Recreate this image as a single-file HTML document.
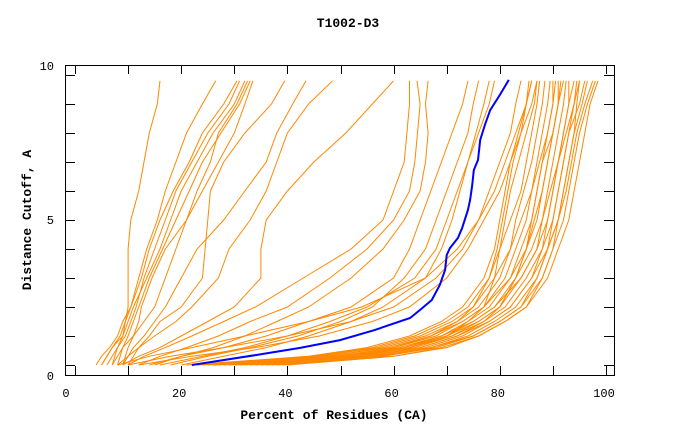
<!DOCTYPE html>
<html><head><meta charset="utf-8"><style>
body{margin:0;background:#fff;}
svg text{font-family:"Liberation Mono",monospace;fill:#000;}
</style></head><body>
<svg id="chart" width="680" height="440" xmlns="http://www.w3.org/2000/svg">
<rect x="0" y="0" width="680" height="440" fill="#fff"/>
<text x="348" y="27" text-anchor="middle" font-size="13" font-weight="bold">T1002-D3</text>
<text x="334" y="419" text-anchor="middle" font-size="13" font-weight="bold">Percent of Residues (CA)</text>
<text transform="translate(31,220) rotate(-90)" text-anchor="middle" font-size="13" font-weight="bold">Distance Cutoff, A</text>
<g id="series"></g>
<g id="axes"></g>
<rect x="65.5" y="65.5" width="549" height="310" fill="none" stroke="#000" stroke-width="1"/>
</svg>
<script>
const yLevels=[0,0.3,0.6,1,1.5,2,3,4,5,6,7,8,9,9.8];
const orangeSeries=[
[6,7,8,9,9.5,10,10,10,10.5,12,13,14,15.5,16],
[5,6,7,8.5,9.5,10.5,12,13.5,15.5,17,19,21,24,26.5],
[4,5,6.5,8,9,10.5,12.5,14,16,18.5,21.5,24,28,30.5],
[7,7.5,8,9.5,10.5,11.5,13,15,17,19,22,25,29,31],
[5,6,7,9,10,11,13.5,16,18,20,23,26,30,32],
[8,8.5,9,10,11,12,14,16.5,19,21.5,24,27.5,31,33],
[9,9.5,10,11,12,12.5,14.5,17,21,23,25.5,27,30.5,32.5],
[7,8,9,11,13,15,17,19,21,24,27,30,32,33.5],
[10,11,12,14,16,20,24,24.5,25,25.5,28,32,37,39.5],
[9,10,11,13,15,17,20,23,28,32,36,38,41,43.5],
[8,10,12,15,19,22,27,29,33,36,38,40,44,48.5],
[9,12,16,20,25,30,35,35,36,40,45,51,56,60],
[10,13,17,22,28,34,43,52,58,60,62,62.5,63,63],
[12,16,21,27,33,40,48,55,60,63,64,64.5,65,64.4],
[15,20,26,32,38,44,52,58,62,65,66,66.5,66,66.5],
[14,20,28,36,44,52,60,63,65,67,69,71,73,74],
[18,25,33,42,50,56,62,66,68,70,72,74,75,76],
[16,24,32,40,48,55,64,68,70,72,74,76,78,79],
[20,28,36,44,52,58,66,69,71,72.5,74,75.5,77,78],
[8,14,22,32,44,54,66,72,76,78,80,82,83,84],
[10,18,28,40,52,60,68,73,76,79,81,83,85,86],
[12,22,34,46,56,63,70,74,77,80,82,84,86,87],
[22,45,56,64,70,74,78,80,82,84,85,86,87,87.5],
[25,48,58,66,72,76,80,82,83,84.5,86,87,88,88.5],
[28,50,60,68,73,77,81,83,85,86,87,88,89,89.5],
[30,52,62,69,74,78,82,84,86,87,88,89,90,90],
[24,47,59,67,73,77,82,85,87,88,89,90,91,91],
[32,54,63,70,75,79,83,86,88,89,90,91,92,92.5],
[26,50,61,69,75,79,84,87,88,89.5,91,92,93,93],
[34,55,64,71,76,80,84,87,89,90,91,92,93,94],
[29,52,63,71,77,81,85,88,89,90,91,92.5,94,95],
[36,57,66,73,78,82,86,88,90,91,92,93,95,96],
[31,55,65,72,78,82,86,89,91,92,93,94,95.5,96.5],
[38,58,67,74,79,83,87,89,91,92.5,93.5,94.5,96,97.5],
[33,57,67,75,80,84,88,90,92,93,94,95,96.5,98],
[40,60,69,76,81,85,89,91,93,94,95,96,97,98.5],
[27,51,62,70,76,80,83,85,86,87,88,90,91,92],
[35,56,65,72,77,80,83,85,86.5,88,89,90,91,91.5],
[23,46,57,65,71,75,79,82,84,86,87.5,89,90,90.5],
[37,58,68,75,80,84,87,89,90,91,92,93,94,94.5],
[39,60,70,76,81,85,88,90,91,92,93,94,94.5,95],
[21,44,55,63,69,73,77,79,80,81,82,83.5,85,86],
[30,53,63,70,74,77,79,80,81,82,83.5,85,86.5,87],
[26,49,60,67,72,75,78,79.5,80.5,81.5,82.5,84,85,85.5]
];
const blueX=[22,34,42.4,49.9,56.5,63.1,65,67.2,68.7,69.7,70,70.6,72.1,72.9,74,74.4,74.8,75.1,75.9,76.3,77.2,78.2,80,81.7];
const blueY=[0,0.34,0.59,0.86,1.21,1.62,1.9,2.24,2.76,3.28,3.79,4.03,4.38,4.72,5.34,5.69,6.2,6.72,7.07,7.76,8.28,8.79,9.31,9.83];
const xTicks=[0,20,40,60,80,100];
const yTicks=[0,5,10];

const NS="http://www.w3.org/2000/svg";
function sx(v){return 75+v*5.31;}
function sy(v){return 365-v*29;}
const sg=document.getElementById('series');
orangeSeries.forEach((xs,i)=>{
  const p=document.createElementNS(NS,'polyline');
  p.setAttribute('points',xs.map((x,j)=>sx(x).toFixed(1)+','+sy(yLevels[j]).toFixed(1)).join(' '));
  p.setAttribute('fill','none');
  p.setAttribute('stroke','#ff8800');
  p.setAttribute('stroke-width','1');
  
  
  sg.appendChild(p);
});
const b=document.createElementNS(NS,'polyline');
b.setAttribute('points',blueX.map((x,j)=>sx(x).toFixed(1)+','+sy(blueY[j]).toFixed(1)).join(' '));
b.setAttribute('fill','none');
b.setAttribute('stroke','#0000ff');
b.setAttribute('stroke-width','2');


sg.appendChild(b);

const ag=document.getElementById('axes');
function line(x1,y1,x2,y2,name){
  const l=document.createElementNS(NS,'line');
  l.setAttribute('x1',x1);l.setAttribute('y1',y1);l.setAttribute('x2',x2);l.setAttribute('y2',y2);
  l.setAttribute('stroke','#000');
  l.setAttribute('stroke-width','1');
  
  
  ag.appendChild(l);
}
for(let v=0;v<=100;v+=10){
  const x=Math.round(sx(v))+0.5;
  line(x,375,x,366,'x-tick');
  line(x,65,x,74,'x-tick-top');
}
for(let v=0;v<=10;v+=1){
  const y=Math.round(sy(v))+0.5;
  line(65,y,75,y,'y-tick');
  line(614,y,604,y,'y-tick-right');
}
xTicks.forEach(v=>{
  const t=document.createElementNS(NS,'text');
  t.setAttribute('x',v===0?66:sx(v)-2);
  t.setAttribute('y',397);
  t.setAttribute('text-anchor','middle');
  t.setAttribute('font-size','12');
  t.textContent=v;
  
  
  ag.appendChild(t);
});
yTicks.forEach(v=>{
  const t=document.createElementNS(NS,'text');
  const yy=v===0?376:(v===10?66:sy(v));
  t.setAttribute('x',54);
  t.setAttribute('y',yy+4);
  t.setAttribute('text-anchor','end');
  t.setAttribute('font-size','12');
  t.textContent=v;
  
  
  ag.appendChild(t);
});
</script>
</body></html>
